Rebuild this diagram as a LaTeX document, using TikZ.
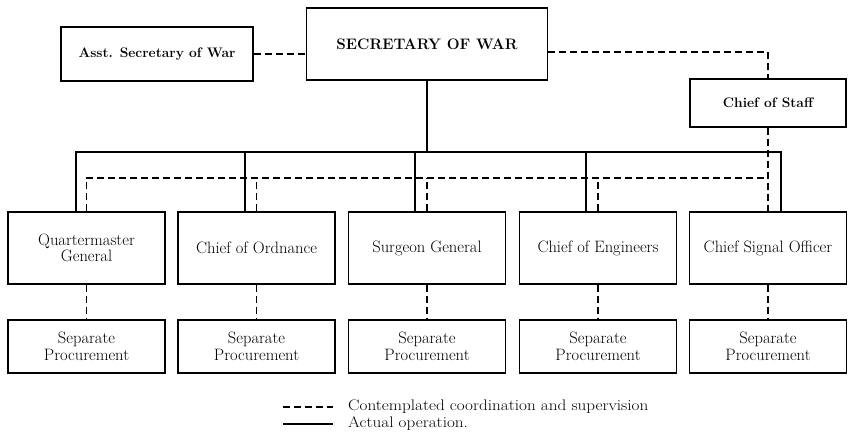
\documentclass[tikz,border=0pt]{standalone}
\usepackage{graphicx}
\usetikzlibrary{calc}
\newcommand{\legwide}[1]{\scalebox{1.12}[1]{#1}}
\begin{document}
\begin{tikzpicture}[x=1pt,y=-1pt,
  box/.style={draw,line width=1.4pt,inner sep=0pt,align=center},
  topbox/.style={box,font=\fontsize{13.8}{15}\selectfont\bfseries},
  mid/.style={box,minimum width=157pt,minimum height=72pt,font=\fontsize{16.5}{16.5}\selectfont},
  low/.style={box,minimum width=157pt,minimum height=53pt,font=\fontsize{16.5}{17}\selectfont},
  solidline/.style={line width=1.8pt},
  dashline/.style={line width=1.8pt,dash pattern=on 7pt off 4pt},
  legtext/.style={anchor=west,inner sep=0pt,font=\fontsize{15.3}{16}\selectfont}]
\useasboundingbox (0,0) rectangle (848,444);

% top level
\node[box,minimum width=241pt,minimum height=72pt,font=\fontsize{15.2}{17}\selectfont\bfseries] (sec) at (427,44) {SECRETARY OF WAR};
\node[topbox,minimum width=192pt,minimum height=54pt] (asst) at (157,54) {Asst. Secretary of War};
\node[topbox,minimum width=156pt,minimum height=48pt] (cos) at (768,103) {Chief of Staff};

% middle level
\node[mid] (qm)   at (86.5,248) {Quartermaster\\General};
\node[mid] (ord)  at (256.5,248) {Chief of Ordnance};
\node[mid] (surg) at (427,248) {Surgeon General};
\node[mid] (eng)  at (598,248) {Chief of Engineers};
\node[mid] (sig)  at (768,248) {Chief Signal Officer};

% bottom level
\foreach \n/\x in {qmp/86.5, ordp/256.5, surgp/427, engp/598, sigp/768}{
  \node[low] (\n) at (\x,346.5) {Separate\\Procurement};
}

\coordinate (bus) at (0,153);
\coordinate (dbus) at (0,178);

% actual operation (solid)
\draw[solidline] (sec.south) -- (sec.south |- bus);
\draw[solidline] ($(qm.north)+(-10.5,0)$) -- ++(0,-59) -| ($(sig.north)+(13,0)$);
\draw[solidline] ($(ord.north)+(-11.5,0)$) -- ++(0,-59);
\draw[solidline] ($(surg.north)+(-12,0)$) -- ++(0,-59);
\draw[solidline] ($(eng.north)+(-12,0)$) -- ++(0,-59);

% contemplated coordination (dashed)
\draw[dashline] (asst.east) -- (asst.east -| sec.west);
\draw[dashline] ($(sec.east)+(0,8)$) -| (cos.north);
\draw[dashline] (cos.south) -- (sig.north);
\draw[dashline] (qm.north) |- (sig.north |- dbus);
\draw[dashline] (ord.north) -- (ord.north |- dbus);
\draw[dashline] (surg.north) -- (surg.north |- dbus);
\draw[dashline] (eng.north) -- (eng.north |- dbus);
\draw[dashline] (qm.south) -- (qmp.north);
\draw[dashline] (ord.south) -- (ordp.north);
\draw[dashline] (surg.south) -- (surgp.north);
\draw[dashline] (eng.south) -- (engp.north);
\draw[dashline] (sig.south) -- (sigp.north);

% legend
\coordinate (l1a) at (283,407);
\coordinate (l1b) at (333,407);
\coordinate (l2a) at (283,424);
\coordinate (l2b) at (333,424);
\draw[dashline] (l1a) -- (l1b);
\draw[solidline] (l2a) -- (l2b);
\node[legtext] (leg1) at (348,407) {\legwide{Contemplated coordination and supervision}};
\node[legtext] (leg2) at (348,424) {\legwide{Actual operation.}};
\end{tikzpicture}
\end{document}
